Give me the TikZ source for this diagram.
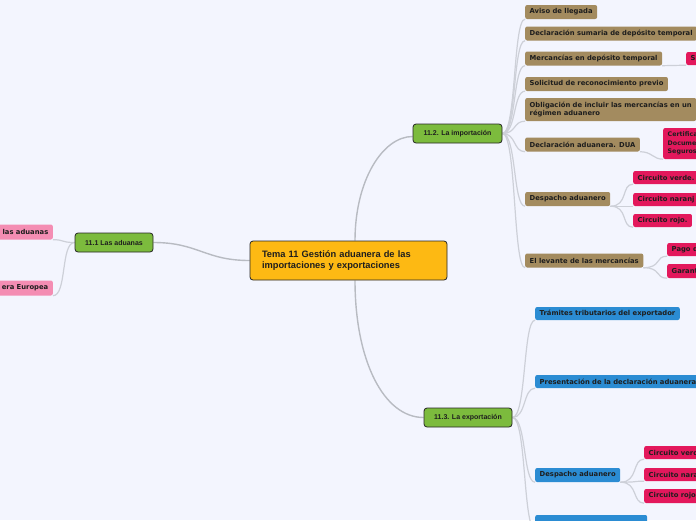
\documentclass[tikz,border=0pt]{standalone}
\usepackage{fontspec}
\setmainfont{DejaVu Sans}
\newfontfamily\arialf{Liberation Sans}
\pgfdeclarelayer{back}
\pgfdeclarelayer{lines}
\pgfsetlayers{back,lines,main}
\definecolor{bgc}{HTML}{F3F5FE}
\definecolor{orangec}{HTML}{FDB913}
\definecolor{greenc}{HTML}{7CBB3D}
\definecolor{brownc}{HTML}{A38B5F}
\definecolor{pinkc}{HTML}{E3185C}
\definecolor{lpink}{HTML}{F48DB3}
\definecolor{bluec}{HTML}{2B8CD3}
\definecolor{linec}{HTML}{CDD0D8}
\definecolor{txtc}{HTML}{1E1E1E}
\tikzset{
  leaf/.style={rounded corners=2pt, inner xsep=4.5pt, inner ysep=0pt, minimum height=14pt,
    font=\fontsize{6.8}{8.5}\selectfont\bfseries, text=txtc, anchor=west, align=left},
  brownbox/.style={leaf, fill=brownc},
  pinkbox/.style={leaf, fill=pinkc},
  lpinkbox/.style={leaf, fill=lpink, anchor=east, minimum height=15pt},
  bluebox/.style={leaf, fill=bluec},
  topic/.style={draw=black!85, line width=0.8pt, rounded corners=3pt, fill=greenc,
    font=\arialf\fontsize{7}{8}\selectfont\bfseries, text=txtc, inner sep=0pt,
    minimum height=19pt},
  conn/.style={draw=linec, line width=1.2pt},
  mconn/.style={draw=linec!90!black, line width=1.4pt},
}
\begin{document}
\begin{tikzpicture}[x=1pt,y=-1pt]
\useasboundingbox (0,0) rectangle (696,520);
\begin{pgfonlayer}{back}
\fill[bgc] (0,0) rectangle (696,520);
\end{pgfonlayer}

% central
\node[draw=black!85, line width=0.8pt, rounded corners=3pt, fill=orangec,
  font=\arialf\fontsize{9.3}{11}\selectfont\bfseries, text=txtc,
  inner xsep=12pt, inner ysep=0pt, text width=173pt, align=left,
  minimum height=39pt] (c) at (348.5,260.5)
  {Tema 11 Gestión aduanera de las\\importaciones y exportaciones};

% main topics
\node[topic, minimum width=78pt] (t1) at (114,242.5) {11.1 Las aduanas};
\node[topic, minimum width=89pt] (t2) at (457.5,133.5) {11.2. La importación};
\node[topic, minimum width=88pt] (t3) at (468,417.5) {11.3. La exportación};

% 11.1 children
\node[lpinkbox] (p1) at (53,232) {las aduanas};
\node[lpinkbox] (p2) at (53,288) {era Europea};

% 11.2 children
\node[brownbox] (a1) at (525,12) {Aviso de llegada};
\node[brownbox] (a2) at (525,33.5) {Declaración sumaria de depósito temporal};
\node[brownbox] (a3) at (525,58.5) {Mercancías en depósito temporal};
\node[brownbox] (a4) at (525,84) {Solicitud de reconocimiento previo};
\node[brownbox, minimum height=23pt] (a5) at (525,109.5) {Obligación de incluir las mercancías en un\\régimen aduanero};
\node[brownbox] (a6) at (525,144.5) {Declaración aduanera. DUA};
\node[brownbox] (a7) at (525,199) {Despacho aduanero};
\node[brownbox] (a8) at (525,260.5) {El levante de las mercancías};

\node[pinkbox, minimum height=13pt] (b1) at (686,58.5) {S};
\node[pinkbox, minimum height=31pt, font=\fontsize{6.3}{8.6}\selectfont\bfseries] (b2) at (663,143.5) {Certifica\\Documen\\Seguros};
\node[pinkbox, minimum height=13pt] (b3) at (633,177.5) {Circuito verde.};
\node[pinkbox, minimum height=13pt] (b4) at (633,199.5) {Circuito naranj};
\node[pinkbox, minimum height=13pt] (b5) at (633,220.5) {Circuito rojo.};
\node[pinkbox, minimum height=13pt] (b6) at (667,249.5) {Pago d};
\node[pinkbox, minimum height=14pt] (b7) at (667,271) {Garant};

% 11.3 children
\node[bluebox, minimum height=13pt] (e1) at (535,313.5) {Trámites tributarios del exportador};
\node[bluebox, minimum height=13pt] (e2) at (535,381.5) {Presentación de la declaración aduanera};
\node[bluebox] (e3) at (535,475) {Despacho aduanero};
\node[bluebox, minimum width=112pt] (e4) at (535,522) {};

\node[pinkbox, minimum height=13pt] (f1) at (644,452.5) {Circuito verd};
\node[pinkbox, minimum height=13pt] (f2) at (644,474.5) {Circuito nara};
\node[pinkbox, minimum height=14pt] (f3) at (644,496) {Circuito rojo};

\begin{pgfonlayer}{lines}
% central connectors
\draw[mconn] (c.west) .. controls +(-45,0) and +(45,0) .. (t1.east);
\draw[mconn] ([xshift=6.5pt]c.north) .. controls +(0,-60) and +(-30,0) .. ([yshift=-3pt]t2.west);
\draw[mconn] ([xshift=6.5pt]c.south) .. controls +(0,80) and +(-40,0) .. (t3.west);
% 11.1
\draw[conn] (t1.west) .. controls +(-14,0) and +(12,0) .. (p1.south east);
\draw[conn] (t1.west) .. controls +(-14,0) and +(14,0) .. (p2.south east);
% 11.2
\foreach \n in {a1,a2,a3,a4,a5,a6,a7,a8}
  \draw[conn] (t2.east) .. controls +(14,0) and +(-12,0) .. (\n.south west);
\draw[conn] (a3.south east) -- (b1.south west);
\draw[conn] (a6.south east) .. controls +(12,0) and +(-10,0) .. (b2.south west);
\foreach \n in {b3,b4,b5}
  \draw[conn] (a7.south east) .. controls +(18,0) and +(-12,0) .. (\n.south west);
\foreach \n in {b6,b7}
  \draw[conn] (a8.south east) .. controls +(18,0) and +(-12,0) .. (\n.south west);
% 11.3
\foreach \n in {e1,e2,e3,e4}
  \draw[conn] (t3.east) .. controls +(14,0) and +(-12,0) .. (\n.south west);
\foreach \n in {f1,f2,f3}
  \draw[conn] (e3.south east) .. controls +(18,0) and +(-12,0) .. (\n.south west);
\end{pgfonlayer}
\end{tikzpicture}
\end{document}
